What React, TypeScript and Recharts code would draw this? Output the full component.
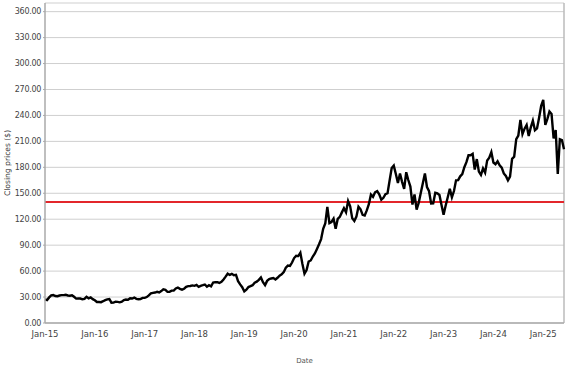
import React from "react";
import {
  LineChart,
  Line,
  XAxis,
  YAxis,
  CartesianGrid,
  ReferenceLine,
} from "recharts";

const closes2015 = [27.3, 26.5, 29.6, 31.9, 32.3, 31.2, 31.0, 31.8, 32.2, 32.2, 32.6, 31.8, 31.6, 32.1, 30.3, 28.2, 28.3, 28.3, 27.4, 27.8, 30.2, 28.5, 29.6, 27.6];
const closes2016 = [26.3, 24.3, 24.3, 24.1, 25.2, 26.4, 27.4, 27.8, 23.5, 23.6, 24.6, 24.4, 23.9, 24.7, 26.5, 27.2, 26.8, 28.5, 28.3, 29.4, 27.9, 27.5, 27.6, 29.0];
const closes2017 = [29.0, 30.0, 32.0, 34.2, 34.8, 35.2, 36.0, 35.3, 36.9, 38.9, 38.3, 36.0, 36.0, 37.4, 37.5, 40.0, 41.0, 39.5, 38.6, 39.6, 41.8, 42.6, 42.8, 43.5];
const closes2018 = [43.0, 44.1, 41.9, 43.0, 43.7, 44.5, 42.0, 43.7, 42.3, 46.8, 47.2, 47.3, 46.3, 47.6, 50.4, 53.6, 57.0, 55.6, 56.8, 55.2, 55.6, 48.4, 44.6, 41.4];
const closes2019 = [36.5, 38.5, 41.6, 42.6, 43.7, 46.6, 47.8, 49.9, 52.6, 47.1, 43.8, 48.7, 50.7, 51.5, 52.0, 50.4, 52.3, 54.8, 56.2, 58.8, 63.9, 66.4, 66.0, 69.9];
const closes2020 = [75.1, 77.8, 77.4, 81.2, 68.3, 57.0, 61.2, 71.1, 72.3, 76.9, 80.5, 85.7, 91.0, 97.0, 108.9, 115.0, 134.2, 115.5, 116.8, 120.7, 108.9, 120.3, 122.7, 127.9];
const closes2021 = [132.7, 128.0, 141.0, 135.0, 121.0, 118.0, 123.0, 134.5, 131.5, 125.1, 124.3, 130.2, 137.3, 148.5, 145.9, 151.1, 152.5, 148.8, 142.6, 144.8, 148.9, 150.0, 164.8, 179.3];
const closes2022 = [182.0, 172.2, 162.0, 172.8, 163.2, 155.1, 174.3, 165.3, 157.7, 137.0, 148.7, 131.0, 138.9, 150.2, 161.5, 173.0, 157.2, 152.4, 138.2, 138.4, 150.6, 150.0, 148.0, 136.5];
const closes2023 = [125.1, 135.9, 145.4, 155.3, 145.3, 152.6, 164.9, 165.2, 169.6, 172.1, 180.1, 186.0, 193.9, 193.9, 195.6, 177.5, 189.5, 175.0, 171.2, 178.7, 173.9, 188.0, 191.2, 197.6];
const closes2024 = [185.6, 183.6, 186.9, 182.3, 179.7, 173.0, 170.0, 165.0, 169.3, 189.8, 192.3, 212.5, 216.8, 234.8, 218.4, 224.7, 229.0, 216.3, 226.2, 233.9, 222.9, 225.0, 237.3, 251.0];
const closes2025 = [258.0, 229.0, 236.0, 244.6, 241.8, 213.5, 223.2, 172.4, 212.5, 211.5, 200.9];

const years = [2015, 2016, 2017, 2018, 2019, 2020, 2021, 2022, 2023, 2024, 2025];
const yearCloses = [closes2015, closes2016, closes2017, closes2018, closes2019, closes2020, closes2021, closes2022, closes2023, closes2024, closes2025];

const xTickLabels = ["Jan-15", "Jan-16", "Jan-17", "Jan-18", "Jan-19", "Jan-20", "Jan-21", "Jan-22", "Jan-23", "Jan-24", "Jan-25"];
const yTicks = [0, 30, 60, 90, 120, 150, 180, 210, 240, 270, 300, 330, 360];
const threshold = 140;

const data = years.flatMap((year, y) =>
  yearCloses[y].map((close, i) => ({ t: year + i / 24, close })),
);
const lastT = data[data.length - 1].t;

const FONT = "'DejaVu Sans', Verdana, sans-serif";
const xTickStyle = { fontSize: 8.5, fill: "#444", fontFamily: FONT };
const yTickStyle = { fontSize: 8, letterSpacing: -0.3, fill: "#444", fontFamily: FONT };

export default function App() {
  return (
    <div style={{ position: "absolute", left: 0, top: 0, background: "#fff" }}>
      <LineChart
        width={577}
        height={367}
        data={data}
        margin={{ top: 3, right: 13, bottom: 0, left: 0 }}
      >
        <CartesianGrid horizontal vertical={false} stroke="#cfcfcf" />
        <XAxis
          dataKey="t"
          type="number"
          domain={[2015, lastT]}
          ticks={years}
          tickFormatter={(v: number) => xTickLabels[years.indexOf(Math.round(v))] ?? ""}
          interval={0}
          height={44}
          tick={xTickStyle}
          tickLine={false}
          tickMargin={2}
          axisLine={{ stroke: "#aaa", strokeWidth: 1.5 }}
          label={{
            value: "Date",
            position: "insideBottom",
            offset: 4,
            style: { fontSize: 7, fill: "#555", fontFamily: FONT },
          }}
        />
        <YAxis
          type="number"
          domain={[0, 370]}
          ticks={yTicks}
          interval={0}
          width={45}
          tickFormatter={(v: number) => v.toFixed(2)}
          tick={yTickStyle}
          tickSize={2}
          tickLine={{ stroke: "#aaa" }}
          tickMargin={2}
          axisLine={{ stroke: "#aaa", strokeWidth: 1.5 }}
          label={{
            value: "Closing prices ($)",
            angle: -90,
            position: "insideLeft",
            offset: 7,
            style: { fontSize: 7.6, fill: "#333", fontFamily: FONT, textAnchor: "middle" },
          }}
        />
        <ReferenceLine x={lastT} stroke="#bbb" strokeWidth={1.5} />
        <ReferenceLine y={threshold} stroke="#e3262b" strokeWidth={2} />
        <Line
          type="linear"
          dataKey="close"
          stroke="#000"
          strokeWidth={2.4}
          dot={false}
          isAnimationActive={false}
        />
      </LineChart>
    </div>
  );
}
